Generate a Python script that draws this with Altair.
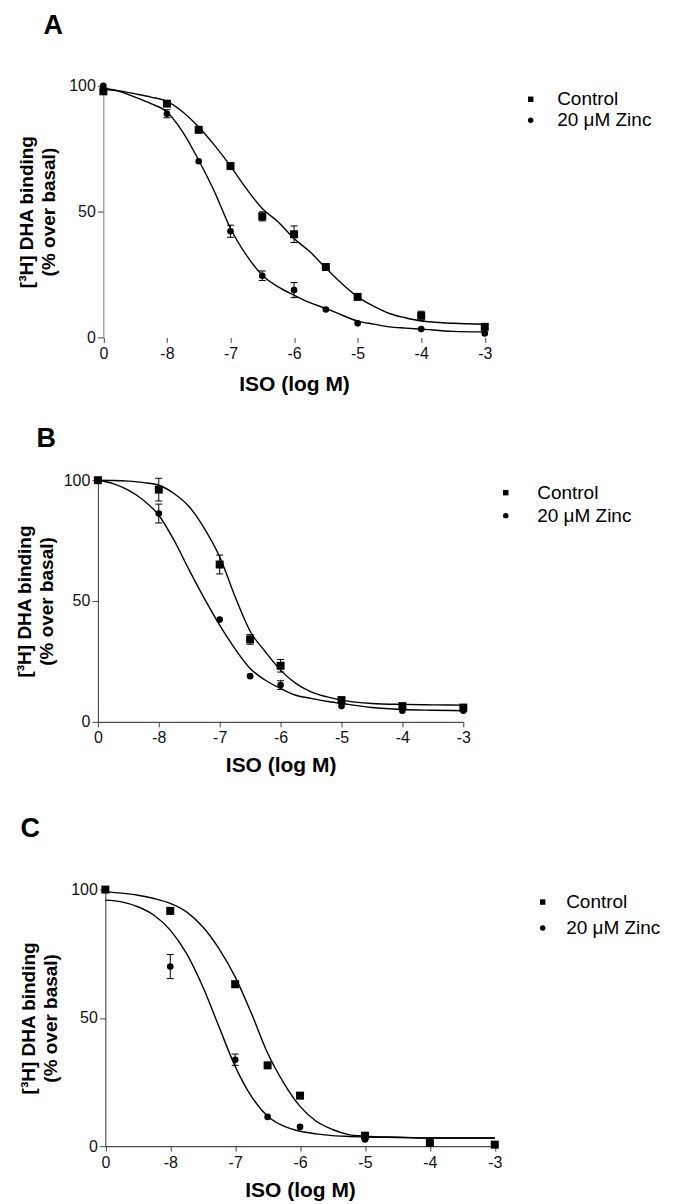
import altair as alt
import pandas as pd

FONT = "Liberation Sans"
SERIES = ["Control", "20 μM Zinc"]
X_TICKS = [-9, -8, -7, -6, -5, -4, -3]
Y_TICKS = [0, 50, 100]
Y_TITLE = ["[³H] DHA binding", "(% over basal)"]
X_TITLE = "ISO (log M)"

# ---------------- Panel A ----------------
A_X = [-9, -8, -7.5, -7, -6.5, -6, -5.5, -5, -4, -3]
A_CTRL = [97.8, 92.9, 82.5, 68.1, 48.1, 41.0, 28.0, 16.1, 8.6, 4.2]
A_CTRL_ERR = [0, 0, 0, 0, 1.8, 3.3, 0, 0, 1.8, 0]
A_ZINC = [100.0, 88.9, 70.0, 42.2, 24.5, 18.8, 11.1, 5.6, 3.3, 1.6]
A_ZINC_ERR = [0, 1.6, 0, 2.4, 1.9, 3.0, 0, 0, 0, 0]
A_FIT_X = [-9, -8.75, -8.5, -8.25, -8, -7.75, -7.5, -7.25, -7, -6.75, -6.5, -6.25,
           -6, -5.75, -5.5, -5.25, -5, -4.75, -4.5, -4.25, -4, -3.5, -3]
A_FIT_CTRL = [98.5, 98.0, 96.8, 95.5, 93.8, 89.6, 83.6, 76.3, 68.1, 59.1, 51.2, 45.9,
              39.3, 34.0, 27.6, 21.4, 16.1, 12.4, 9.5, 7.8, 6.5, 5.6, 5.2]
A_FIT_ZINC = [99.0, 97.8, 95.5, 92.9, 89.6, 81.6, 70.4, 57.8, 43.3, 32.7, 24.7, 20.1,
              16.8, 13.8, 11.5, 8.9, 6.5, 5.3, 4.2, 3.7, 3.3, 2.4, 2.2]

# ---------------- Panel B ----------------
B_X = [-9, -8, -7, -6.5, -6, -5, -4, -3]
B_CTRL = [100.0, 96.1, 65.1, 34.1, 23.2, 9.0, 6.5, 5.9]
B_CTRL_ERR = [0, 4.7, 3.9, 2.0, 2.6, 0, 0, 0]
B_ZINC = [100.0, 86.2, 42.3, 18.9, 15.2, 6.5, 4.6, 4.6]
B_ZINC_ERR = [0, 3.9, 0, 0, 1.8, 0, 0, 0]
B_FIT_X = [-9, -8.75, -8.5, -8.25, -8, -7.75, -7.5, -7.25, -7, -6.75, -6.5, -6.25,
           -6, -5.75, -5.5, -5.25, -5, -4.5, -4, -3.5, -3]
B_FIT_CTRL = [100.0, 99.9, 99.6, 99.0, 97.9, 94.5, 89.0, 80.0, 68.3, 52.0, 37.5, 29.0,
              21.4, 15.9, 12.4, 10.4, 9.0, 7.6, 7.2, 7.0, 6.9]
B_FIT_ZINC = [100.0, 98.6, 95.9, 91.7, 85.5, 75.2, 62.8, 51.0, 40.0, 30.3, 22.1, 17.2,
              13.8, 11.0, 9.7, 8.5, 7.6, 5.9, 5.1, 4.8, 4.6]

# ---------------- Panel C ----------------
C_X = [-9, -8, -7, -6.5, -6, -5, -4, -3]
C_CTRL = [100.0, 91.7, 63.1, 31.5, 19.7, 4.1, 1.3, 0.6]
C_CTRL_ERR = [0, 1.2, 1.2, 0, 0, 0, 0, 0]
C_ZINC = [100.0, 70.0, 33.7, 11.4, 7.5, 2.6, 1.3, 0.6]
C_ZINC_ERR = [0, 4.7, 2.2, 0, 0, 0, 0, 0]
C_FIT_X = [-9, -8.75, -8.5, -8.25, -8, -7.75, -7.5, -7.25, -7, -6.75, -6.5, -6.25,
           -6, -5.75, -5.5, -5.25, -5, -4.5, -4, -3.5, -3]
C_FIT_CTRL = [99.1, 98.6, 97.8, 96.5, 94.6, 91.3, 85.5, 77.0, 66.0, 51.8, 36.3, 24.6,
              15.5, 9.7, 6.5, 4.5, 3.9, 3.5, 3.2, 3.2, 3.2]
C_FIT_ZINC = [95.9, 95.2, 93.3, 90.0, 84.2, 75.1, 62.2, 46.6, 31.1, 19.4, 11.7, 7.8,
              5.8, 4.8, 4.1, 3.8, 3.6, 3.4, 3.2, 3.2, 3.2]


def panel(letter, xs, ctrl, ctrl_err, zinc, zinc_err, fx, fctrl, fzinc, cfg):
    pts = pd.DataFrame({
        "x": list(xs) + list(xs),
        "y": list(zinc) + list(ctrl),
        "err": list(zinc_err) + list(ctrl_err),
        "series": [SERIES[1]] * len(xs) + [SERIES[0]] * len(xs),
    })
    fit = pd.DataFrame({
        "x": list(fx) + list(fx),
        "y": list(fctrl) + list(fzinc),
        "series": [SERIES[0]] * len(fx) + [SERIES[1]] * len(fx),
    })

    w, h, hg, xo = cfg["w"], cfg["h"], cfg["hg"], cfg["xo"]
    xscale = alt.Scale(domain=[-9, -3], nice=False, zero=False, range=[xo, xo + w])
    yscale = alt.Scale(domain=[0, 100], nice=False, zero=False, range=[hg, hg - h])

    xaxis = alt.Axis(
        values=X_TICKS,
        labelExpr="datum.value == -9 ? '0' : '-' + abs(datum.value)",
        title=X_TITLE, titleFont=FONT, titleFontSize=21, titleFontWeight="bold",
        titleColor="black", titlePadding=cfg["xtp"],
        labelFont=FONT, labelFontSize=16, labelColor="#111", labelPadding=3,
        labelFlush=False, labelOverlap=False,
        tickSize=5, tickColor="#444", tickWidth=1,
        domain=cfg["xdomain"], domainColor="#222", domainWidth=1, grid=False,
    )
    yaxis = alt.Axis(
        values=Y_TICKS, title=Y_TITLE, titleFont=FONT, titleFontSize=19,
        titleFontWeight="bold", titleColor="black", titleLineHeight=22,
        titlePadding=cfg["ytp"], labelFont=FONT, labelFontSize=16, labelColor="#111",
        labelPadding=2, tickSize=6, tickColor="#444", tickWidth=1,
        domainColor=cfg["ydc"], domainWidth=1, grid=False, offset=-xo,
    )
    X = alt.X("x:Q", scale=xscale, axis=xaxis)

    def Y(field):
        return alt.Y(field, type="quantitative", scale=yscale, axis=yaxis)

    lines = alt.Chart(fit).mark_line(
        color="black", strokeWidth=1.4, interpolate="monotone"
    ).encode(x=X, y=Y("y"), detail="series:N")

    bars = alt.Chart(pts).transform_filter("datum.err > 0").transform_calculate(
        lo="datum.y - datum.err", hi="datum.y + datum.err"
    )
    rules = bars.mark_rule(color="black", strokeWidth=1).encode(
        x=X, y=Y("lo"), y2="hi:Q"
    )
    cap_hi = bars.mark_point(
        shape="M-1,0H1", size=49, stroke="black", strokeWidth=1, filled=False, opacity=1
    ).encode(x=X, y=Y("hi"))
    cap_lo = bars.mark_point(
        shape="M-1,0H1", size=49, stroke="black", strokeWidth=1, filled=False, opacity=1
    ).encode(x=X, y=Y("lo"))

    points = alt.Chart(pts).mark_point(filled=True, opacity=1, strokeWidth=0).encode(
        x=X, y=Y("y"),
        shape=alt.Shape(
            "series:N",
            scale=alt.Scale(domain=SERIES, range=["square", "circle"]),
            legend=alt.Legend(
                title=None, orient="none", legendX=cfg["lx"], legendY=cfg["ly"],
                labelFont=FONT, labelFontSize=19, labelColor="black",
                labelOffset=cfg["lo"], rowPadding=cfg["rp"], padding=0,
                symbolSize=30, symbolFillColor="black", symbolStrokeColor="black",
                symbolStrokeWidth=0,
            ),
        ),
        size=alt.condition("datum.series == 'Control'", alt.value(64), alt.value(44)),
        color=alt.value("black"),
    )

    lab = alt.Chart(pd.DataFrame({"t": [letter]})).mark_text(
        align="left", baseline="alphabetic", font=FONT, fontSize=27,
        fontWeight="bold", color="black"
    ).encode(x=alt.value(cfg["tx"]), y=alt.value(cfg["ty"]), text="t:N")

    return alt.layer(lines, rules, cap_hi, cap_lo, points, lab).properties(
        width=xo + w, height=hg
    )


cfgA = dict(w=382, h=252, hg=252, xo=5.5, xtp=12, ytp=10, xdomain=False, ydc="#777",
            lx=424, ly=4, lo=17, rp=1, tx=-54.5, ty=-52)
cfgB = dict(w=366, h=242, hg=385, xo=0, xtp=9, ytp=7, xdomain=True, ydc="#333",
            lx=399, ly=146, lo=22, rp=3, tx=-61.5, ty=110)
cfgC = dict(w=390, h=257, hg=425, xo=7.5, xtp=9, ytp=10, xdomain=True, ydc="#333",
            lx=436, ly=171, lo=14, rp=6, tx=-77.5, ty=115)

pA = panel("A", A_X, A_CTRL, A_CTRL_ERR, A_ZINC, A_ZINC_ERR,
           A_FIT_X, A_FIT_CTRL, A_FIT_ZINC, cfgA)
pB = panel("B", B_X, B_CTRL, B_CTRL_ERR, B_ZINC, B_ZINC_ERR,
           B_FIT_X, B_FIT_CTRL, B_FIT_ZINC, cfgB)
pC = panel("C", C_X, C_CTRL, C_CTRL_ERR, C_ZINC, C_ZINC_ERR,
           C_FIT_X, C_FIT_CTRL, C_FIT_ZINC, cfgC)

chart = alt.vconcat(pA, pB, pC, spacing=0, bounds="flush").resolve_scale(
    shape="independent", x="independent", y="independent"
).properties(
    padding={"left": 7, "top": 3, "right": 5, "bottom": 2},
    background="white",
).configure_view(stroke=None)

chart.save("out.html", embed_options={"renderer": "svg", "actions": False})
